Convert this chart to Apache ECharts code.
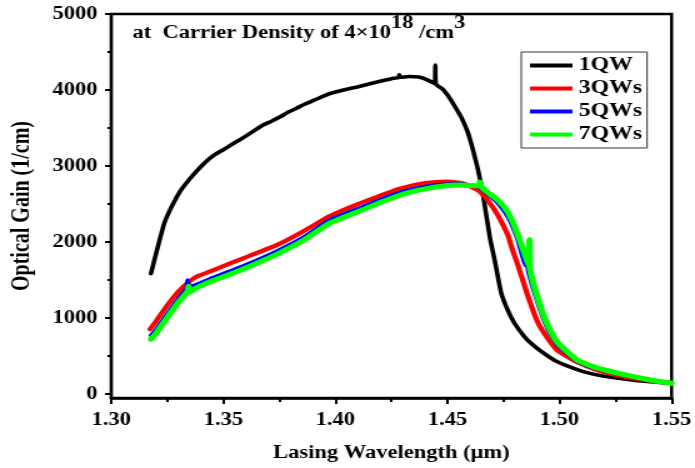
<!DOCTYPE html>
<html>
<head>
<meta charset="utf-8">
<script src="https://cdn.jsdelivr.net/npm/echarts@6/dist/echarts.min.js"></script>
<style>
html,body{margin:0;padding:0;background:#fff;overflow:hidden;}
#wrap{width:695px;height:468px;overflow:hidden;}
#chart{width:556px;height:468px;transform:scaleX(1.25);transform-origin:0 0;}
</style>
</head>
<body>
<div id="wrap"><div id="chart"></div></div>
<script>
const seriesNames = ['1QW', '3QWs', '5QWs', '7QWs'];
const xTickLabels = ['1.30', '1.35', '1.40', '1.45', '1.50', '1.55'];
const yTickLabels = [0, 1000, 2000, 3000, 4000, 5000];
const yMinorTicks = [500, 1500, 2500, 3500, 4500];

const qw1_x = [1.3177,1.3200,1.3236,1.3270,1.3310,1.3350,1.3384,1.3420,1.3457,1.3500,1.3531,1.3570,1.3605,1.3640,1.3678,1.3715,1.3752,1.3790,1.3826,1.3860,1.3900,1.3935,1.3973,1.4050,1.4106,1.4150,1.4195,1.4250,1.4283,1.4285,1.4290,1.4330,1.4372,1.4410,1.4444,1.4446,1.4448,1.4480,1.4504,1.4530,1.4562,1.4590,1.4606,1.4637,1.4660,1.4690,1.4711,1.4740,1.4770,1.4800,1.4840,1.4873,1.4920,1.4977,1.5040,1.5110,1.5200,1.5330,1.5420,1.5500];
const qw1_y = [1586,1850,2243,2470,2680,2830,2943,3050,3140,3215,3272,3340,3403,3470,3540,3590,3644,3710,3760,3810,3860,3905,3951,4010,4047,4080,4113,4150,4165,4200,4168,4178,4170,4135,4085,4330,4080,4010,3920,3800,3640,3450,3300,2943,2600,2050,1760,1330,1100,929,770,670,560,447,365,293,235,184,160,145];

const qw3_x = [1.3173,1.3200,1.3250,1.3300,1.3340,1.3384,1.3450,1.3530,1.3600,1.3738,1.3850,1.3973,1.4100,1.4200,1.4283,1.4400,1.4500,1.4570,1.4637,1.4680,1.4726,1.4770,1.4790,1.4810,1.4858,1.4903,1.4947,1.4990,1.5080,1.5170,1.5300,1.5400,1.5500];
const qw3_y = [854,960,1170,1350,1460,1550,1625,1720,1800,1960,2130,2340,2500,2610,2700,2775,2795,2770,2680,2550,2350,2090,1900,1735,1300,946,736,578,420,315,223,180,150];

const qw5_x = [1.3177,1.3200,1.3250,1.3300,1.3335,1.3340,1.3350,1.3380,1.3450,1.3530,1.3600,1.3738,1.3850,1.3973,1.4100,1.4200,1.4300,1.4400,1.4500,1.4550,1.4600,1.4640,1.4680,1.4726,1.4770,1.4810,1.4850,1.4855,1.4860,1.4903,1.4947,1.4990,1.5080,1.5170,1.5300,1.5400,1.5500];
const qw5_y = [775,850,1060,1260,1390,1500,1420,1440,1530,1620,1700,1880,2050,2290,2440,2560,2665,2730,2765,2765,2750,2725,2630,2510,2330,2060,1690,1750,1620,1200,860,650,430,330,242,188,145];

const qw7_x = [1.3177,1.3200,1.3250,1.3300,1.3340,1.3345,1.3350,1.3380,1.3450,1.3530,1.3600,1.3738,1.3850,1.3973,1.4100,1.4200,1.4300,1.4400,1.4500,1.4550,1.4600,1.4640,1.4645,1.4650,1.4680,1.4726,1.4770,1.4810,1.4858,1.4865,1.4866,1.4867,1.4903,1.4947,1.4990,1.5080,1.5170,1.5300,1.5400,1.5500];
const qw7_y = [723,800,1010,1210,1350,1420,1340,1400,1490,1577,1660,1840,2010,2247,2400,2520,2630,2700,2745,2752,2745,2740,2790,2730,2654,2550,2392,2128,1735,1690,2030,1680,1261,907,683,447,342,250,190,145];

const colors = ['#000000', '#ff0000', '#0000ff', '#00ff00'];
const FONT = '"Liberation Serif", "Times New Roman", serif';

function pairs(xs, ys) { return xs.map((x, i) => [x, ys[i]]); }
const allData = [pairs(qw1_x, qw1_y), pairs(qw3_x, qw3_y), pairs(qw5_x, qw5_y), pairs(qw7_x, qw7_y)];
const widths = [3.6, 4.2, 3.6, 5];
const zs = [2, 3, 4, 5];

const chart = echarts.init(document.getElementById('chart'), null, {renderer: 'canvas'});
const option = {
  backgroundColor: '#fff',
  animation: false,
  grid: {left: 88, right: 16, top: 14, bottom: 70, show: true, borderColor: '#000', borderWidth: 2.5, backgroundColor: 'transparent'},
  legend: {
    orient: 'vertical', left: 417, top: 52,
    data: seriesNames,
    icon: 'rect', itemWidth: 34, itemHeight: 4, itemGap: 4,
    padding: [4, 4, 4, 7],
    borderColor: '#333', borderWidth: 1, backgroundColor: '#fff',
    textStyle: {fontFamily: FONT, fontWeight: 'bold', fontSize: 19, color: '#000'}
  },
  xAxis: {
    type: 'value', min: 1.30, max: 1.55, interval: 0.05,
    axisLine: {onZero: false, lineStyle: {color: '#000', width: 2.5}},
    axisTick: {inside: false, length: 6, lineStyle: {width: 2}},
    minorTick: {show: true, splitNumber: 2, length: 4, lineStyle: {color: '#000', width: 2}},
    splitLine: {show: false},
    axisLabel: {fontFamily: FONT, fontWeight: 'bold', fontSize: 18, color: '#000', margin: 13,
      formatter: v => xTickLabels.find(t => Math.abs(parseFloat(t) - v) < 1e-6) || ''},
    name: 'Lasing Wavelength (μm)', nameLocation: 'middle', nameGap: 46,
    nameTextStyle: {fontFamily: FONT, fontWeight: 'bold', fontSize: 18, color: '#000'}
  },
  yAxis: [{
    type: 'value', min: -50, max: 5000,
    axisLine: {show: true, onZero: false, lineStyle: {color: '#000', width: 2.2}},
    axisTick: {show: true, inside: false, length: 5, customValues: yTickLabels, lineStyle: {width: 2}},
    axisLabel: {fontFamily: FONT, fontWeight: 'bold', fontSize: 18, color: '#000', margin: 11,
      customValues: yTickLabels, formatter: v => String(v)},
    splitLine: {show: false},
    name: 'Optical Gain (1/cm)', nameLocation: 'middle', nameGap: 61, nameRotate: 90,
    nameTextStyle: {fontFamily: FONT, fontWeight: 'bold', fontSize: 20, color: '#000'}
  }, {
    type: 'value', min: -50, max: 5000, position: 'left',
    axisLine: {show: false},
    axisTick: {show: true, inside: false, length: 3, customValues: yMinorTicks, lineStyle: {width: 2, color: '#000'}},
    axisLabel: {show: false},
    splitLine: {show: false}
  }],
  graphic: [{
    type: 'text', left: 106, top: 14, z: 100,
    style: {
      text: '{a|at  Carrier Density of 4×10}{s|18}{a| /cm}{s|3}',
      rich: {
        a: {fontFamily: FONT, fontWeight: 'bold', fontSize: 18, lineHeight: 28, verticalAlign: 'bottom', fill: '#000'},
        s: {fontFamily: FONT, fontWeight: 'bold', fontSize: 18, lineHeight: 28, verticalAlign: 'top', fill: '#000'}
      }
    }
  }],
  series: seriesNames.map((n, i) => ({
    name: n, type: 'line', data: allData[i], showSymbol: false, symbol: 'none',
    smooth: 0.15, color: colors[i],
    lineStyle: {color: colors[i], width: widths[i], cap: 'round', join: 'round'},
    z: zs[i]
  }))
};
chart.setOption(option);
</script>
</body>
</html>
